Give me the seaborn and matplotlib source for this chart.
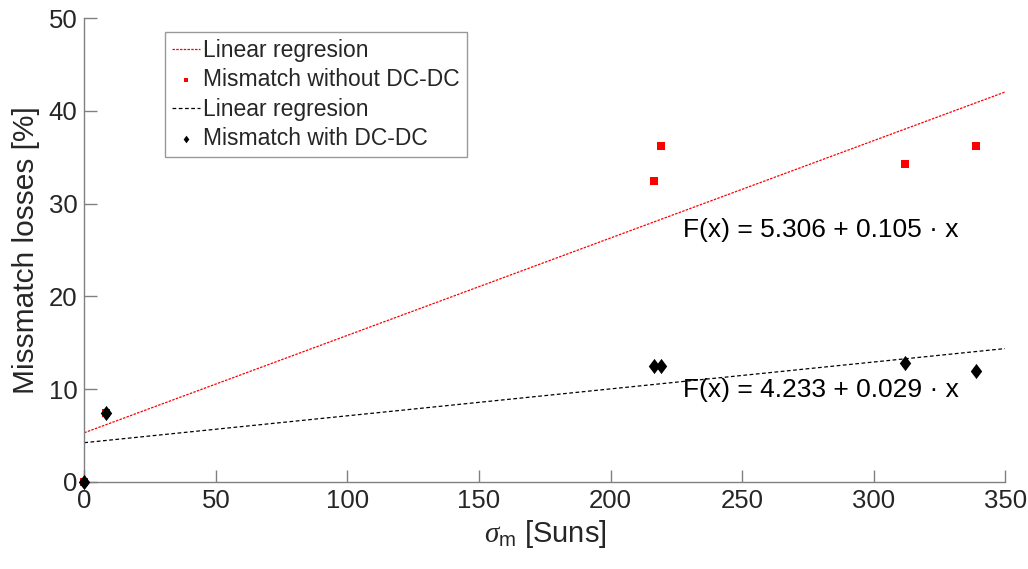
import matplotlib
matplotlib.use("Agg")
import matplotlib.pyplot as plt
import seaborn as sns
import numpy as np
import pandas as pd

sigma_without = [0, 8.4, 216.6, 219.3, 312, 339]
loss_without = [0, 7.4, 32.4, 36.2, 34.3, 36.2]
sigma_with = [0, 8.4, 216.6, 219.3, 312, 339]
loss_with = [0, 7.4, 12.5, 12.5, 12.8, 12.0]
fit_red = (5.306, 0.105)
fit_black = (4.233, 0.029)
fit_x = [0, 350]

sns.set_theme(style="white")
plt.rcParams['font.family'] = ['Liberation Sans', 'DejaVu Sans']
plt.rcParams['mathtext.fontset'] = 'custom'
plt.rcParams['mathtext.rm'] = 'Liberation Sans'
plt.rcParams['mathtext.it'] = 'Liberation Serif:italic'

fig, ax = plt.subplots(figsize=(10.28, 5.69), dpi=100)
fig.subplots_adjust(left=0.082, right=0.978, top=0.968, bottom=0.153)

diamond = [(0, 1), (0.75, 0), (0, -1), (-0.75, 0), (0, 1)]

fx = np.array(fit_x, dtype=float)
df_red_fit = pd.DataFrame({"x": fx, "y": fit_red[0] + fit_red[1] * fx})
df_blk_fit = pd.DataFrame({"x": fx, "y": fit_black[0] + fit_black[1] * fx})
df_red = pd.DataFrame({"x": sigma_without, "y": loss_without})
df_blk = pd.DataFrame({"x": sigma_with, "y": loss_with})

sns.lineplot(data=df_red_fit, x="x", y="y", ax=ax, color="red", lw=0.9,
             linestyle=(0, (2, 1)), label="Linear regresion")
sns.scatterplot(data=df_red, x="x", y="y", ax=ax, color="red", marker="s", s=30,
                edgecolor="red", linewidth=0, label="Mismatch without DC-DC", zorder=3,
                clip_on=False)
sns.lineplot(data=df_blk_fit, x="x", y="y", ax=ax, color="black", lw=0.9,
             linestyle=(0, (3, 2)), label="Linear regresion")
sns.scatterplot(data=df_blk, x="x", y="y", ax=ax, color="black", marker=diamond, s=120,
                edgecolor="black", linewidth=0, label="Mismatch with DC-DC", zorder=4,
                clip_on=False)

ax.set_xlim(0, 350)
ax.set_ylim(0, 50)
ax.set_xticks(range(0, 351, 50))
ax.set_yticks(range(0, 51, 10))
for s in ["top", "right"]:
    ax.spines[s].set_visible(False)
for s in ["left", "bottom"]:
    ax.spines[s].set_color("#808080")
    ax.spines[s].set_linewidth(1.0)
ax.tick_params(direction="in", length=9, width=1, color="#808080",
               labelsize=18.5, labelcolor="#262626", left=True, bottom=True, pad=5)
ax.set_xlabel(r"$\mathit{\sigma}_{\mathrm{m}}$ [Suns]", fontsize=21, color="#262626", labelpad=4)
ax.set_ylabel("Missmatch losses [%]", fontsize=21.5, color="#262626", labelpad=6)

ax.text(227.5, 27.2, "F(x) = 5.306 + 0.105 · x", fontsize=19, va="center", ha="left", color="black")
ax.text(227.5, 9.9, "F(x) = 4.233 + 0.029 · x", fontsize=19, va="center", ha="left", color="black")

leg = ax.legend(loc="upper left", bbox_to_anchor=(0.088, 0.97), fontsize=16.5, frameon=True,
                fancybox=False, edgecolor="#808080", handlelength=1.2, handletextpad=0.15,
                borderpad=0.3, labelspacing=0.28, borderaxespad=0, markerscale=0.5)
leg.get_frame().set_linewidth(1.0)

fig.savefig("out.png", dpi=100)
